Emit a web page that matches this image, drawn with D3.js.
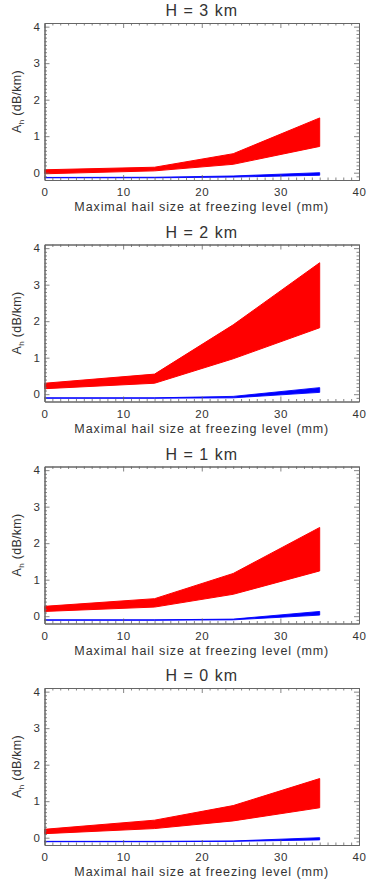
<!DOCTYPE html>
<html><head><meta charset="utf-8">
<script src="https://cdn.jsdelivr.net/npm/d3@7"></script>
<style>body{margin:0;background:#fff}svg{display:block}text{font-family:"Liberation Sans",Arial,sans-serif;fill:#333}</style>
</head><body>
<script>
const panelTitles = ["H = 3 km", "H = 2 km", "H = 1 km", "H = 0 km"];
const hailSize = [0, 14, 24, 35];
const xTicks = [0, 10, 20, 30, 40];
const yTicks = [0, 1, 2, 3, 4];
// red band (upper, lower) per panel
const redUpper = [[0.08, 0.15, 0.52, 1.5], [0.3, 0.55, 1.9, 3.6], [0.27, 0.48, 1.17, 2.43], [0.23, 0.48, 0.88, 1.62]];
const redLower = [[-0.03, 0.05, 0.23, 0.72], [0.15, 0.3, 0.97, 1.82], [0.13, 0.25, 0.6, 1.24], [0.11, 0.25, 0.46, 0.82]];
// blue band (upper, lower) per panel
const blueUpper = [[-0.13, -0.125, -0.09, 0.0], [-0.1, -0.1, -0.06, 0.18], [-0.1, -0.1, -0.08, 0.13], [-0.1, -0.1, -0.09, 0.0]];
const blueLower = [[-0.14, -0.14, -0.12, -0.07], [-0.11, -0.11, -0.1, 0.05], [-0.11, -0.11, -0.1, 0.03], [-0.11, -0.11, -0.1, -0.06]];

const W = 368, H = 881;
const svg = d3.select("body").append("svg").attr("width", W).attr("height", H);
const left = 44.5, right = 359, ph = 157;
const tops = [23, 244.5, 466.5, 688];
const x = d3.scaleLinear().domain([0, 40]).range([left, right]);

panelTitles.forEach((t, i) => {
  const top = tops[i];
  const y = d3.scaleLinear().domain([-0.2, 4.1]).range([top + ph, top]);
  const g = svg.append("g");
  const mk = (up, lo) => d3.area().x((d, j) => x(hailSize[j])).y0((d, j) => y(lo[j])).y1((d, j) => y(up[j]));
  g.append("path").attr("d", mk(redUpper[i], redLower[i])(hailSize))
    .attr("fill", "#ff0000").attr("stroke", "#ff0000").attr("stroke-width", 1);
  g.append("path").attr("d", mk(blueUpper[i], blueLower[i])(hailSize))
    .attr("fill", "#0000ff").attr("stroke", "#0000ff").attr("stroke-width", 0.9);

  g.append("g").attr("transform", `translate(0,${top + ph})`)
    .call(d3.axisBottom(x).tickValues(xTicks).tickSizeInner(-5).tickSizeOuter(0).tickPadding(8).tickFormat(d3.format("d")));
  g.append("g").attr("transform", `translate(0,${top})`)
    .call(d3.axisTop(x).tickValues(xTicks).tickSizeInner(-5).tickSizeOuter(0).tickFormat(""));
  g.append("g").attr("transform", `translate(${left},0)`)
    .call(d3.axisLeft(y).tickValues(yTicks).tickSizeInner(-5).tickSizeOuter(0).tickPadding(4).tickFormat(d3.format("d")));
  g.append("g").attr("transform", `translate(${right},0)`)
    .call(d3.axisRight(y).tickValues(yTicks).tickSizeInner(-5).tickSizeOuter(0).tickFormat(""));
  const minorX = d3.range(0, 41, 1).filter(v => v % 10 !== 0);
  const minorY = d3.range(-1, 42, 1).map(v => v / 10).filter(v => Math.round(v * 10) % 10 !== 0 && v > -0.2 && v < 4.1);
  g.append("g").attr("transform", `translate(0,${top + ph})`)
    .call(d3.axisBottom(x).tickValues(minorX).tickSizeInner(-2.5).tickSizeOuter(0).tickFormat(""));
  g.append("g").attr("transform", `translate(0,${top})`)
    .call(d3.axisTop(x).tickValues(minorX).tickSizeInner(-2.5).tickSizeOuter(0).tickFormat(""));
  g.append("g").attr("transform", `translate(${left},0)`)
    .call(d3.axisLeft(y).tickValues(minorY).tickSizeInner(-2.5).tickSizeOuter(0).tickFormat(""));
  g.append("g").attr("transform", `translate(${right},0)`)
    .call(d3.axisRight(y).tickValues(minorY).tickSizeInner(-2.5).tickSizeOuter(0).tickFormat(""));
  g.selectAll(".domain").attr("stroke", "#666").attr("stroke-width", 1);
  g.selectAll(".tick line").attr("stroke", "#666").attr("stroke-width", 0.8);
  g.selectAll(".tick text").style("font-size", "11.5px").style("letter-spacing", "0.5px").attr("fill", "#333");

  g.append("text").attr("x", (left + right) / 2).attr("y", top - 7).attr("text-anchor", "middle")
    .style("font-size", "16px").style("letter-spacing", "1px").text(t);
  g.append("text").attr("x", (left + right) / 2).attr("y", top + ph + 31).attr("text-anchor", "middle")
    .style("font-size", "12.5px").style("letter-spacing", "0.9px").text("Maximal hail size at freezing level (mm)");
  const yt = g.append("text").attr("transform", `translate(21,${top + ph / 2}) rotate(-90)`)
    .attr("text-anchor", "middle").style("font-size", "12.5px").style("letter-spacing", "0.3px");
  yt.append("tspan").text("A");
  yt.append("tspan").attr("dy", 3).style("font-size", "8px").text("h");
  yt.append("tspan").attr("dy", -3).text(" (dB/km)");
});
</script>
</body></html>
